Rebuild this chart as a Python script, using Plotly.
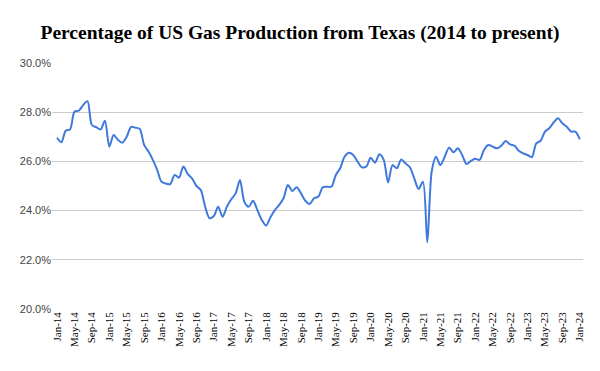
import plotly.graph_objects as go

months = ["Jan", "Feb", "Mar", "Apr", "May", "Jun", "Jul", "Aug", "Sep", "Oct", "Nov", "Dec"]
years = list(range(14, 25))
labels = [f"{m}-{y}" for y in years for m in months][:121]

v2014 = [26.96, 26.78, 27.25, 27.30, 28.02, 28.06, 28.29, 28.45, 27.48, 27.39, 27.30, 27.65]
v2015 = [26.60, 27.07, 26.87, 26.76, 27.00, 27.40, 27.37, 27.32, 26.67, 26.40, 26.06, 25.65]
v2016 = [25.17, 25.10, 25.08, 25.45, 25.34, 25.79, 25.49, 25.31, 25.00, 24.84, 24.16, 23.69]
v2017 = [23.78, 24.16, 23.75, 24.16, 24.46, 24.70, 25.24, 24.36, 24.16, 24.40, 24.02, 23.62]
v2018 = [23.39, 23.73, 24.02, 24.23, 24.50, 25.04, 24.80, 24.95, 24.70, 24.40, 24.27, 24.50]
v2019 = [24.57, 24.95, 24.97, 24.97, 25.45, 25.72, 26.19, 26.35, 26.26, 25.99, 25.76, 25.79]
v2020 = [26.15, 25.95, 26.29, 26.06, 25.14, 25.85, 25.72, 26.08, 25.92, 25.76, 25.31, 24.88]
v2021 = [25.17, 22.71, 25.58, 26.19, 25.85, 26.19, 26.56, 26.37, 26.53, 26.26, 25.89, 26.02]
v2022 = [26.11, 26.06, 26.46, 26.67, 26.60, 26.53, 26.64, 26.83, 26.69, 26.64, 26.43, 26.33]
v2023 = [26.26, 26.17, 26.73, 26.84, 27.21, 27.35, 27.58, 27.75, 27.55, 27.41, 27.21, 27.21]
v2024 = [26.90]

values = v2014 + v2015 + v2016 + v2017 + v2018 + v2019 + v2020 + v2021 + v2022 + v2023 + v2024
tick_labels = labels[::4]
y_ticks = [20, 22, 24, 26, 28, 30]
y_tick_text = [f"{v:.1f}%" for v in y_ticks]

fig = go.Figure()
fig.add_trace(go.Scatter(
    x=labels, y=values, mode="lines",
    line=dict(color="#4079dc", width=2, shape="spline", smoothing=0.8),
    hoverinfo="skip", showlegend=False,
))

fig.update_layout(
    width=600, height=371,
    margin=dict(l=52, r=17, t=63, b=62),
    paper_bgcolor="white", plot_bgcolor="white",
    title=dict(
        text="<b>Percentage of US Gas Production from Texas (2014 to present)</b>",
        x=0.5, xanchor="center", y=0.914, yanchor="middle",
        font=dict(family="Liberation Serif", size=19.5, color="#000000"),
    ),
)
fig.update_xaxes(
    type="category", categoryorder="array", categoryarray=labels,
    range=[-1.15, 120.74], automargin=False,
    tickmode="array", tickvals=tick_labels, ticktext=tick_labels,
    tickangle=-90, showgrid=False, zeroline=False, showline=False, ticks="",
    tickfont=dict(family="Liberation Serif", size=11, color="#000000"),
)
fig.update_yaxes(
    range=[20, 30], tickmode="array", tickvals=y_ticks, ticktext=y_tick_text,
    automargin=False,
    showgrid=True, gridcolor="#cccccc", gridwidth=1,
    zeroline=False, showline=False, ticks="",
    tickfont=dict(family="Liberation Sans", size=11, color="#444444"),
)

fig.write_html("out.html", config={"displayModeBar": False},
               post_script="document.body.style.margin='0';")
